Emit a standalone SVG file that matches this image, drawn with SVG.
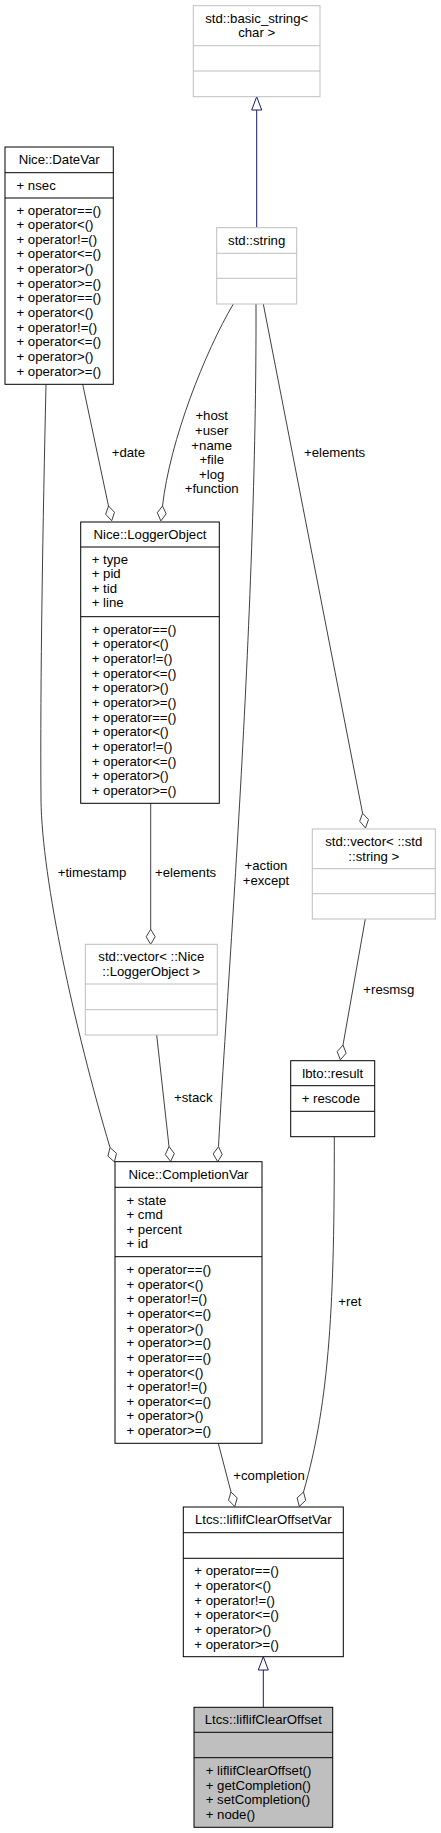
<svg xmlns="http://www.w3.org/2000/svg" width="441" height="1833" viewBox="0 0 441 1833">
<style>
text{font-family:"Liberation Sans",Arial,sans-serif;font-size:13.2px;fill:#000}
.c{text-anchor:middle}
.bk{fill:#fff;stroke:#000;stroke-width:1}
.gr{fill:#fff;stroke:#bfbfbf;stroke-width:1}
.main{fill:#bfbfbf;stroke:#000;stroke-width:1}
.dl{stroke:#000;stroke-width:1}
.gl{stroke:#bfbfbf;stroke-width:1}
.e{fill:none;stroke:#404040;stroke-width:1}
.dm{fill:#fff;stroke:#404040;stroke-width:1}
.inh{fill:none;stroke:#191970;stroke-width:1}
.tri{fill:#fff;stroke:#191970;stroke-width:1}
</style>
<rect width="441" height="1833" fill="#fff"/>
<g id="connectors">
<path class="inh" d="M256.7,110 V227.7"/>
<polygon class="tri" points="256.7,96.7 261.7,110 251.7,110"/>
<path class="e" d="M233.3,304 C205,352 170,440 162.5,506"/>
<polygon class="dm" points="162.5,506 166.2,513.8 160.8,520.9 157.3,512.7"/>
<path class="e" d="M82.7,384.3 L108.5,506"/>
<polygon class="dm" points="108.5,506 114.5,512.3 111.7,520.7 105.7,514.3"/>
<path class="e" d="M263.3,304 L362.6,813.3"/>
<polygon class="dm" points="362.6,813.3 368.5,819.5 365.5,828 359.7,821.2"/>
<path class="e" d="M150.7,803.3 V929.3"/>
<polygon class="dm" points="150.7,929.3 155.2,936.8 150.7,944.3 146.2,936.8"/>
<path class="e" d="M256,304 C257,620 226,1000 218.5,1146.7"/>
<polygon class="dm" points="218.5,1146.7 222.2,1154.5 217.7,1161.7 213.2,1153.9"/>
<path class="e" d="M46,384.3 C43,520 40,680 41,800 C42,880 75,1030 110,1147.5"/>
<polygon class="dm" points="110,1147.5 116.5,1153.4 114.4,1161.9 107.9,1156.1"/>
<path class="e" d="M156.7,1035 L169,1146.5"/>
<polygon class="dm" points="169,1146.5 174.3,1153.5 170.7,1161.4 165.3,1154.5"/>
<path class="e" d="M365.3,919 L343,1045"/>
<polygon class="dm" points="343,1045 346.1,1053.2 340.4,1059.8 337.2,1051.6"/>
<path class="e" d="M334.3,1136.7 C334.5,1300 330,1400 303.5,1492"/>
<polygon class="dm" points="303.5,1492 305.7,1500.4 299.3,1506.4 297.1,1497.9"/>
<path class="e" d="M218.3,1443.3 L231,1492"/>
<polygon class="dm" points="231,1492 237.2,1497.9 234.8,1506.5 228.5,1500.2"/>
<path class="inh" d="M263.3,1670 V1707.3"/>
<polygon class="tri" points="263.3,1656.7 268.3,1670 258.3,1670"/>
<text x="111.7" y="457">+date</text>
<text class="c" x="211.7" y="420.2">+host</text>
<text class="c" x="211.7" y="434.8">+user</text>
<text class="c" x="211.7" y="449.5">+name</text>
<text class="c" x="211.7" y="464.1">+file</text>
<text class="c" x="211.7" y="478.8">+log</text>
<text class="c" x="211.7" y="493.4">+function</text>
<text x="304" y="457">+elements</text>
<text x="57.7" y="877">+timestamp</text>
<text x="155" y="877">+elements</text>
<text class="c" x="266" y="870">+action</text>
<text class="c" x="266" y="884.7">+except</text>
<text x="174" y="1101.8">+stack</text>
<text x="363.3" y="993.5">+resmsg</text>
<text x="338.3" y="1306">+ret</text>
<text x="233.3" y="1479.5">+completion</text>
</g>
<g id="basic_string">
<rect class="gr" x="193.3" y="5.7" width="126.7" height="91"/>
<line class="gl" x1="193.3" y1="45.7" x2="320" y2="45.7"/>
<line class="gl" x1="193.3" y1="71" x2="320" y2="71"/>
<text class="c" x="256.7" y="22.5">std::basic_string&lt;</text>
<text class="c" x="256.7" y="37.3">char &gt;</text>
</g>
<g id="std_string">
<rect class="gr" x="216.7" y="227.7" width="80" height="76.3"/>
<line class="gl" x1="216.7" y1="253.3" x2="296.7" y2="253.3"/>
<line class="gl" x1="216.7" y1="278.3" x2="296.7" y2="278.3"/>
<text class="c" x="256.7" y="245">std::string</text>
</g>
<g id="DateVar">
<rect class="bk" x="5" y="147" width="108.3" height="237.3"/>
<line class="dl" x1="5" y1="172.7" x2="113.3" y2="172.7"/>
<line class="dl" x1="5" y1="198" x2="113.3" y2="198"/>
<text class="c" x="59.2" y="164.3">Nice::DateVar</text>
<text x="16.5" y="190">+ nsec</text>
<text x="16.5" y="214.5">+ operator==()</text>
<text x="16.5" y="229.1">+ operator&lt;()</text>
<text x="16.5" y="243.8">+ operator!=()</text>
<text x="16.5" y="258.4">+ operator&lt;=()</text>
<text x="16.5" y="273.1">+ operator&gt;()</text>
<text x="16.5" y="287.7">+ operator&gt;=()</text>
<text x="16.5" y="302.3">+ operator==()</text>
<text x="16.5" y="317">+ operator&lt;()</text>
<text x="16.5" y="331.6">+ operator!=()</text>
<text x="16.5" y="346.3">+ operator&lt;=()</text>
<text x="16.5" y="360.9">+ operator&gt;()</text>
<text x="16.5" y="375.5">+ operator&gt;=()</text>
</g>
<g id="LoggerObject">
<rect class="bk" x="80.7" y="522" width="138.6" height="281.3"/>
<line class="dl" x1="80.7" y1="547" x2="219.3" y2="547"/>
<line class="dl" x1="80.7" y1="616.7" x2="219.3" y2="616.7"/>
<text class="c" x="150" y="539">Nice::LoggerObject</text>
<text x="91.7" y="563.5">+ type</text>
<text x="91.7" y="578.1">+ pid</text>
<text x="91.7" y="592.7">+ tid</text>
<text x="91.7" y="607.3">+ line</text>
<text x="91.7" y="633.8">+ operator==()</text>
<text x="91.7" y="648.4">+ operator&lt;()</text>
<text x="91.7" y="663.1">+ operator!=()</text>
<text x="91.7" y="677.7">+ operator&lt;=()</text>
<text x="91.7" y="692.4">+ operator&gt;()</text>
<text x="91.7" y="707">+ operator&gt;=()</text>
<text x="91.7" y="721.6">+ operator==()</text>
<text x="91.7" y="736.3">+ operator&lt;()</text>
<text x="91.7" y="750.9">+ operator!=()</text>
<text x="91.7" y="765.6">+ operator&lt;=()</text>
<text x="91.7" y="780.2">+ operator&gt;()</text>
<text x="91.7" y="794.8">+ operator&gt;=()</text>
</g>
<g id="vector_string">
<rect class="gr" x="312.3" y="829" width="123" height="90"/>
<line class="gl" x1="312.3" y1="868.7" x2="435.3" y2="868.7"/>
<line class="gl" x1="312.3" y1="893.7" x2="435.3" y2="893.7"/>
<text class="c" x="373.8" y="846">std::vector&lt; ::std</text>
<text class="c" x="373.8" y="860.7">::string &gt;</text>
</g>
<g id="vector_LoggerObject">
<rect class="gr" x="85.3" y="944.3" width="132" height="90.7"/>
<line class="gl" x1="85.3" y1="984" x2="217.3" y2="984"/>
<line class="gl" x1="85.3" y1="1009.7" x2="217.3" y2="1009.7"/>
<text class="c" x="151.3" y="961.4">std::vector&lt; ::Nice</text>
<text class="c" x="151.3" y="976">::LoggerObject &gt;</text>
</g>
<g id="result">
<rect class="bk" x="290.7" y="1060.7" width="84" height="76"/>
<line class="dl" x1="290.7" y1="1085.7" x2="374.7" y2="1085.7"/>
<line class="dl" x1="290.7" y1="1111.3" x2="374.7" y2="1111.3"/>
<text class="c" x="332.7" y="1077.7">lbto::result</text>
<text x="301.7" y="1103">+ rescode</text>
</g>
<g id="CompletionVar">
<rect class="bk" x="115" y="1161.7" width="147" height="281.6"/>
<line class="dl" x1="115" y1="1187.3" x2="262" y2="1187.3"/>
<line class="dl" x1="115" y1="1256.7" x2="262" y2="1256.7"/>
<text class="c" x="188.5" y="1179">Nice::CompletionVar</text>
<text x="126.5" y="1204.6">+ state</text>
<text x="126.5" y="1219.2">+ cmd</text>
<text x="126.5" y="1233.8">+ percent</text>
<text x="126.5" y="1248.4">+ id</text>
<text x="126.5" y="1274">+ operator==()</text>
<text x="126.5" y="1288.6">+ operator&lt;()</text>
<text x="126.5" y="1303.3">+ operator!=()</text>
<text x="126.5" y="1317.9">+ operator&lt;=()</text>
<text x="126.5" y="1332.6">+ operator&gt;()</text>
<text x="126.5" y="1347.2">+ operator&gt;=()</text>
<text x="126.5" y="1361.8">+ operator==()</text>
<text x="126.5" y="1376.5">+ operator&lt;()</text>
<text x="126.5" y="1391.1">+ operator!=()</text>
<text x="126.5" y="1405.8">+ operator&lt;=()</text>
<text x="126.5" y="1420.4">+ operator&gt;()</text>
<text x="126.5" y="1435">+ operator&gt;=()</text>
</g>
<g id="liflifClearOffsetVar">
<rect class="bk" x="183.3" y="1507" width="160" height="149.7"/>
<line class="dl" x1="183.3" y1="1532.7" x2="343.3" y2="1532.7"/>
<line class="dl" x1="183.3" y1="1558.3" x2="343.3" y2="1558.3"/>
<text class="c" x="263.3" y="1524.3">Ltcs::liflifClearOffsetVar</text>
<text x="194.3" y="1575.4">+ operator==()</text>
<text x="194.3" y="1590">+ operator&lt;()</text>
<text x="194.3" y="1604.7">+ operator!=()</text>
<text x="194.3" y="1619.3">+ operator&lt;=()</text>
<text x="194.3" y="1634">+ operator&gt;()</text>
<text x="194.3" y="1648.6">+ operator&gt;=()</text>
</g>
<g id="liflifClearOffset">
<rect class="main" x="194" y="1707.3" width="138.7" height="120"/>
<line class="dl" x1="194" y1="1732.3" x2="332.7" y2="1732.3"/>
<line class="dl" x1="194" y1="1757.7" x2="332.7" y2="1757.7"/>
<text class="c" x="263.3" y="1724.3">Ltcs::liflifClearOffset</text>
<text x="205.7" y="1775">+ liflifClearOffset()</text>
<text x="205.7" y="1789.6">+ getCompletion()</text>
<text x="205.7" y="1804.3">+ setCompletion()</text>
<text x="205.7" y="1818.9">+ node()</text>
</g>
</svg>
